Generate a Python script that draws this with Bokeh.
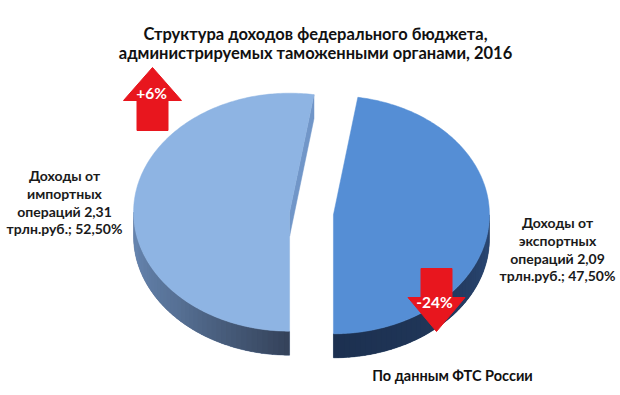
import numpy as np
from bokeh.plotting import figure
from bokeh.models import Range1d, ColumnDataSource
from bokeh.core.properties import value
from bokeh.embed import file_html
from bokeh.resources import INLINE

# ---- data ----
title_lines = ["Структура доходов федерального бюджета,",
               "администрируемых таможенными органами, 2016"]
categories = ["импортных", "экспортных"]
amounts = [2.31, 2.09]            # трлн. руб.
shares = [52.50, 47.50]           # %
changes = ["+6%", "-24%"]
source_note = "По данным ФТС России"

# ---- styling / geometry (pixel space, y down) ----
W, H = 620, 395
CX, CY = 311.0, 213.0
RX, RY = 156.0, 119.0
DEPTH = 24.0
EXPLODE = 22.0
FONT = "Lato"

top_colors = ["#8EB4E3", "#558ED5"]
side_stops = [
    [(180, (52, 66, 90)), (195, (64, 82, 110)), (225, (86, 112, 148)), (270, (106, 138, 182))],
    [(90, (44, 74, 120)), (140, (32, 54, 88)), (180, (28, 48, 80))],
]
side_base = ["#566f94", "#213a5e"]
cut_color = "#7196C8"

p = figure(width=W, height=H, output_backend="svg", toolbar_location=None,
           x_range=Range1d(0, W), y_range=Range1d(H, 0),
           min_border=0, outline_line_color=None, background_fill_color="white",
           border_fill_color="white")
p.axis.visible = False
p.grid.visible = False


def pt(cx, cy, th):
    t = np.radians(th)
    return cx + RX * np.sin(t), cy - RY * np.cos(t)


def interp_color(stops, th):
    for (a, ca), (b, cb) in zip(stops[:-1], stops[1:]):
        if a <= th <= b:
            f = (th - a) / (b - a)
            c = [int(round(ca[i] + f * (cb[i] - ca[i]))) for i in range(3)]
            return "#%02x%02x%02x" % tuple(c)
    c = stops[-1][1] if th > stops[-1][0] else stops[0][1]
    return "#%02x%02x%02x" % tuple(c)


# slice angles: clockwise from 12 o'clock; import slice starts at 6 o'clock
total = sum(shares)
spans = [s / total * 360.0 for s in shares]
start_imp = 180.0
slices = [(start_imp, start_imp + spans[0]),
          (start_imp + spans[0] - 360.0, start_imp + spans[0] - 360.0 + spans[1])]

centers = []
for (a0, a1) in slices:
    mid = np.radians((a0 + a1) / 2)
    centers.append((CX + EXPLODE * np.sin(mid), CY - EXPLODE * (RY / RX) * np.cos(mid)))

base_xs, base_ys = [], []
side_xs, side_ys, side_cols = [], [], []
for k, (cx, cy) in enumerate(centers):
    a0, a1 = slices[k]
    if k == 0:
        lo, hi = 180.0, 270.0
    else:
        lo, hi = max(a0, 90.0), min(a1, 180.0)
    full = np.linspace(lo, hi, 120)
    top = [pt(cx, cy, t) for t in full]
    base_xs.append([q[0] for q in top] + [q[0] for q in top[::-1]])
    base_ys.append([q[1] for q in top] + [q[1] + DEPTH for q in top[::-1]])
    n = 45
    ths = np.linspace(lo, hi, n + 1)
    for i in range(n):
        t0, t1 = ths[i], min(ths[i + 1] + 0.6, hi)
        seg = np.linspace(t0, t1, 4)
        pts_ = [pt(cx, cy, t) for t in seg]
        side_xs.append([q[0] for q in pts_] + [q[0] for q in pts_[::-1]])
        side_ys.append([q[1] for q in pts_] + [q[1] + DEPTH for q in pts_[::-1]])
        side_cols.append(interp_color(side_stops[k], (ths[i] + ths[i + 1]) / 2))

p.patches(xs="xs", ys="ys", fill_color="c", line_color="c", line_width=0.5,
          source=ColumnDataSource(dict(xs=base_xs, ys=base_ys, c=side_base)))
p.patches(xs="xs", ys="ys", fill_color="c", line_color=None,
          source=ColumnDataSource(dict(xs=side_xs, ys=side_ys, c=side_cols)))

# cut face of the import slice at its end edge
cx0, cy0 = centers[0]
ex, ey = pt(cx0, cy0, slices[0][1])
p.patch([cx0, ex, ex, cx0], [cy0, ey, ey + DEPTH, cy0 + DEPTH],
        fill_color=cut_color, line_color=cut_color, line_width=0.5)

# top faces
top_xs, top_ys = [], []
for (a0, a1), (cx, cy) in zip(slices, centers):
    ths = np.linspace(a0, a1, 200)
    xs = [cx] + [pt(cx, cy, t)[0] for t in ths]
    ys = [cy] + [pt(cx, cy, t)[1] for t in ths]
    top_xs.append(xs)
    top_ys.append(ys)
p.patches(xs="xs", ys="ys", fill_color="c", line_color="c", line_width=0.5,
          source=ColumnDataSource(dict(xs=top_xs, ys=top_ys, c=top_colors)))

# arrows with changes
RED = "#E8161E"


def arrow(x, y_base, up, shaft_w, shaft_len, head_w, head_len):
    s = -1 if up else 1
    hw, sw = head_w / 2, shaft_w / 2
    xs = [x - sw, x + sw, x + sw, x + hw, x, x - hw, x - sw]
    ys = [y_base, y_base, y_base + s * shaft_len, y_base + s * shaft_len,
          y_base + s * (shaft_len + head_len), y_base + s * shaft_len, y_base + s * shaft_len]
    return xs, ys


ax, ay = arrow(152.0, 130.0, True, 31, 30, 58, 33)
p.patch(ax, ay, fill_color=RED, line_color=RED)
bx, by = arrow(436.0, 268.0, False, 31, 29, 57, 34)
p.patch(bx, by, fill_color=RED, line_color=RED)
p.text(x=[151, 434], y=[92, 301], text=changes, text_color="white",
       text_font=value(FONT), text_font_style="bold", text_font_size="15.5px",
       text_align="center", text_baseline="middle")

# title
p.text(x=[315, 315], y=[33, 52], text=title_lines, text_color="#111111",
       text_font=value(FONT), text_font_style="bold", text_font_size="16.5px",
       text_align="center", text_baseline="middle")

# data labels
lab_lines = []
lab_x, lab_y = [], []
for k, (cat, amt, sh) in enumerate(zip(categories, amounts, shares)):
    lines = ["Доходы от", cat,
             "операций " + f"{amt:.2f}".replace(".", ","),
             "трлн.руб.; " + f"{sh:.2f}".replace(".", ",") + "%"]
    x0 = 64 if k == 0 else 557
    y0 = 175 if k == 0 else 222
    for j, ln in enumerate(lines):
        lab_lines.append(ln)
        lab_x.append(x0)
        lab_y.append(y0 + j * 17.8)
p.text(x=lab_x, y=lab_y, text=lab_lines, text_color="#1a1a1a",
       text_font=value(FONT), text_font_style="bold", text_font_size="14px",
       text_align="center", text_baseline="middle")

p.text(x=[452], y=[375], text=[source_note], text_color="#111111",
       text_font=value(FONT), text_font_style="bold", text_font_size="14.5px",
       text_align="center", text_baseline="middle")

open("out.html", "w").write(file_html(p, INLINE))
